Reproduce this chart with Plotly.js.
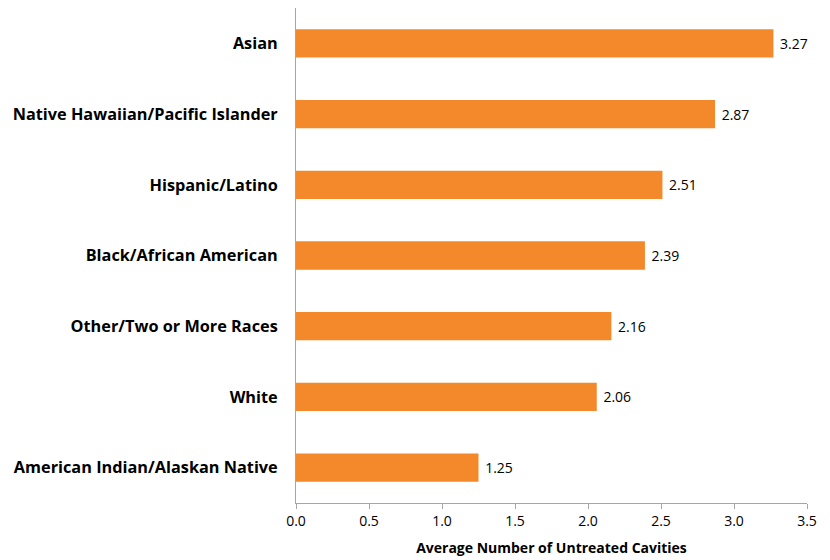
<!DOCTYPE html>
<html>
<head>
<meta charset="utf-8">
<script src="https://cdn.plot.ly/plotly-3.0.1.min.js"></script>
<style>html,body{margin:0;padding:0;background:#fff;}#chart{width:830px;height:560px;}</style>
</head>
<body>
<div id="chart"></div>
<script>
const categories = ["Asian", "Native Hawaiian/Pacific Islander", "Hispanic/Latino", "Black/African American", "Other/Two or More Races", "White", "American Indian/Alaskan Native"];
const values = [3.27, 2.87, 2.51, 2.39, 2.16, 2.06, 1.25];
const valueLabels = ["3.27", "2.87", "2.51", "2.39", "2.16", "2.06", "1.25"];
const xTitle = "Average Number of Untreated Cavities";

const font = "'Open Sans', sans-serif";
const trace = {
  type: "bar",
  orientation: "h",
  y: categories,
  x: values,
  text: valueLabels.map(function (s) { return "\u00a0" + s; }),
  textposition: "outside",
  cliponaxis: false,
  textfont: {family: font, size: 14, color: "#000"},
  marker: {color: "#F3892B"},
  width: 0.4,
  hoverinfo: "none"
};
const layout = {
  width: 830, height: 560,
  margin: {l: 296, r: 23, t: 8, b: 57},
  paper_bgcolor: "#fff", plot_bgcolor: "#fff",
  showlegend: false,
  font: {family: font, color: "#000"},
  xaxis: {
    range: [0, 3.5], dtick: 0.5, tickformat: ".1f",
    showgrid: false, zeroline: false,
    showline: true, linecolor: "#A6A6A6", linewidth: 1,
    ticks: "outside", ticklen: 5, tickcolor: "#A6A6A6",
    tickfont: {family: font, size: 14, color: "#000"},
    title: {text: "<b>" + xTitle + "</b>", font: {family: font, size: 14, color: "#000"}, standoff: 14}
  },
  yaxis: {
    autorange: "reversed",
    showgrid: false, zeroline: false,
    showline: true, linecolor: "#A6A6A6", linewidth: 1,
    ticks: "", ticklabelstandoff: 14,
    tickfont: {family: font, size: 16.3, color: "#000", weight: "bold"}
  }
};
Plotly.newPlot("chart", [trace], layout, {staticPlot: true, displayModeBar: false});
</script>
</body>
</html>
